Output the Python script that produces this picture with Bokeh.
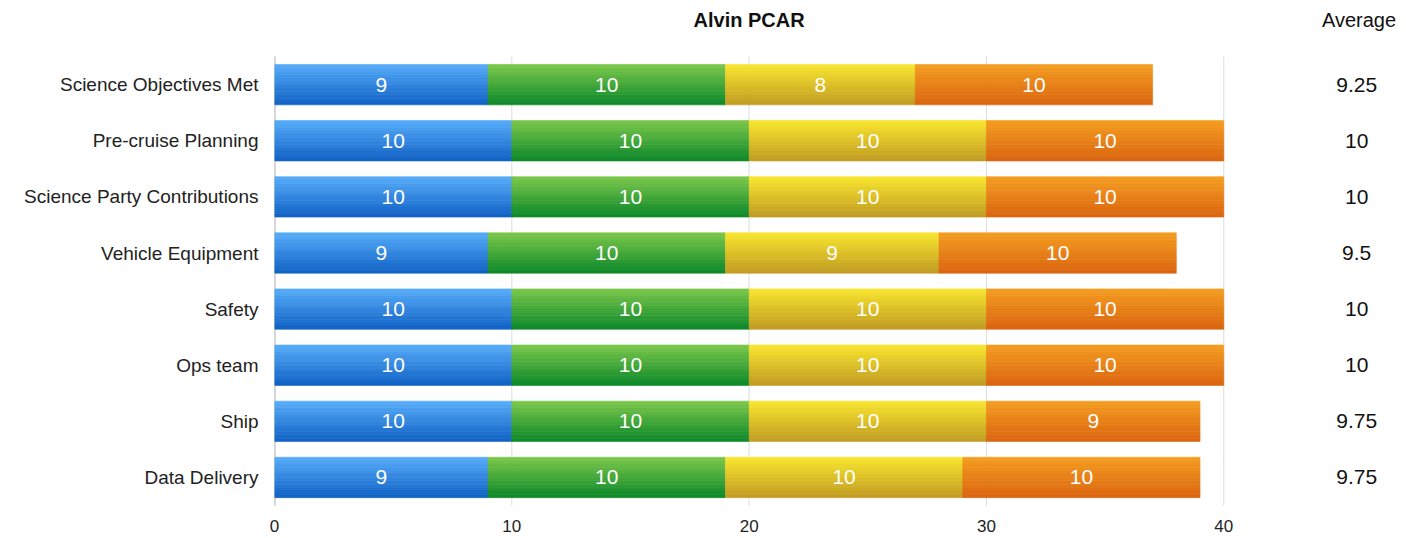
from bokeh.plotting import figure
from bokeh.models import ColumnDataSource, FactorRange, Range1d, FixedTicker
from bokeh.transform import dodge
from bokeh.core.properties import value
from bokeh.embed import file_html
from bokeh.resources import INLINE

title_text = "Alvin PCAR"
avg_header = "Average"
categories = ["Science Objectives Met", "Pre-cruise Planning", "Science Party Contributions",
              "Vehicle Equipment", "Safety", "Ops team", "Ship", "Data Delivery"]
series1 = [9, 10, 10, 9, 10, 10, 10, 9]
series2 = [10, 10, 10, 10, 10, 10, 10, 10]
series3 = [8, 10, 10, 9, 10, 10, 10, 10]
series4 = [10, 10, 10, 10, 10, 10, 9, 10]
averages = ["9.25", "10", "10", "9.5", "10", "10", "9.75", "9.75"]
x_ticks = [0, 10, 20, 30, 40]

FONT = "Liberation Sans"
gradients = [("#55aaf8", "#1264c6"), ("#78c649", "#108a2a"),
             ("#f8e42e", "#c29e22"), ("#f39c20", "#dc6610")]

def mix(c1, c2, t):
    a = [int(c1[i:i + 2], 16) for i in (1, 3, 5)]
    b = [int(c2[i:i + 2], 16) for i in (1, 3, 5)]
    return "#%02x%02x%02x" % tuple(round(a[k] + (b[k] - a[k]) * t) for k in range(3))

n = len(categories)
header_row = " "
p = figure(width=1406, height=538, output_backend="svg", toolbar_location=None,
           y_range=FactorRange(factors=list(reversed(categories)) + [header_row], range_padding=0),
           x_range=Range1d(0, 47.7),
           min_border_left=274, min_border_right=0, min_border_top=0, min_border_bottom=33)
p.outline_line_color = None
p.background_fill_color = "white"
p.xgrid.grid_line_color = None
p.ygrid.grid_line_color = None

# grid lines and left axis line limited to the bar rows
gx = x_ticks[1:]
p.segment(x0=gx, x1=gx, y0=[-0.01] * len(gx), y1=[n] * len(gx),
          line_color="#dcdcdc", line_width=1)
p.segment(x0=[x_ticks[0]], x1=[x_ticks[0]], y0=[-0.02], y1=[n],
          line_color="#b0b0b0", line_width=2)

series = [series1, series2, series3, series4]
lefts = [0] * n
bar_h = 0.72
N = 12
strip = bar_h / N
label_x, label_y, label_t = [], [], []
for si, vals in enumerate(series):
    rights = [l + v for l, v in zip(lefts, vals)]
    src = ColumnDataSource(dict(cat=categories, left=lefts, right=rights))
    top, bot = gradients[si]
    for k in range(N):
        off = bar_h / 2 - strip * (k + 0.5)
        col = mix(top, bot, k / (N - 1))
        p.hbar(y=dodge("cat", off, range=p.y_range), left="left", right="right",
               height=strip, source=src, fill_color=col, line_color=col, line_width=0.6)
    for c, l, v in zip(categories, lefts, vals):
        label_x.append(l + v / 2)
        label_y.append(c)
        label_t.append(str(v))
    lefts = rights

lsrc = ColumnDataSource(dict(x=label_x, y=label_y, t=label_t))
p.text(x="x", y="y", text="t", source=lsrc, text_color="white", text_align="center",
       text_baseline="middle", text_font=value(FONT), text_font_size="21px")

asrc = ColumnDataSource(dict(y=categories, t=averages))
p.text(x=45.6, y="y", text="t", source=asrc, text_color="#111111", text_align="center",
       text_baseline="middle", text_font=value(FONT), text_font_size="21px")

# headers
p.text(x=[20], y=[n + 0.66], text=[title_text], text_color="#111111", text_align="center",
       text_baseline="middle", text_font=value(FONT), text_font_size="20px",
       text_font_style="bold")
p.text(x=[45.7], y=[n + 0.66], text=[avg_header], text_color="#111111", text_align="center",
       text_baseline="middle", text_font=value(FONT), text_font_size="20px")

p.xaxis.ticker = FixedTicker(ticks=x_ticks)
p.xaxis.axis_line_color = None
p.xaxis.major_tick_line_color = None
p.xaxis.minor_tick_line_color = None
p.xaxis.major_label_standoff = 8
p.xaxis.major_label_text_font = FONT
p.xaxis.major_label_text_font_size = "17px"
p.xaxis.major_label_text_color = "#222222"

p.yaxis.axis_line_color = None
p.yaxis.major_tick_line_color = None
p.yaxis.minor_tick_line_color = None
p.yaxis.major_label_standoff = 10
p.yaxis.major_label_text_font = FONT
p.yaxis.major_label_text_font_size = "19px"
p.yaxis.major_label_text_color = "#222222"

open("out.html", "w").write(file_html(p, INLINE))
